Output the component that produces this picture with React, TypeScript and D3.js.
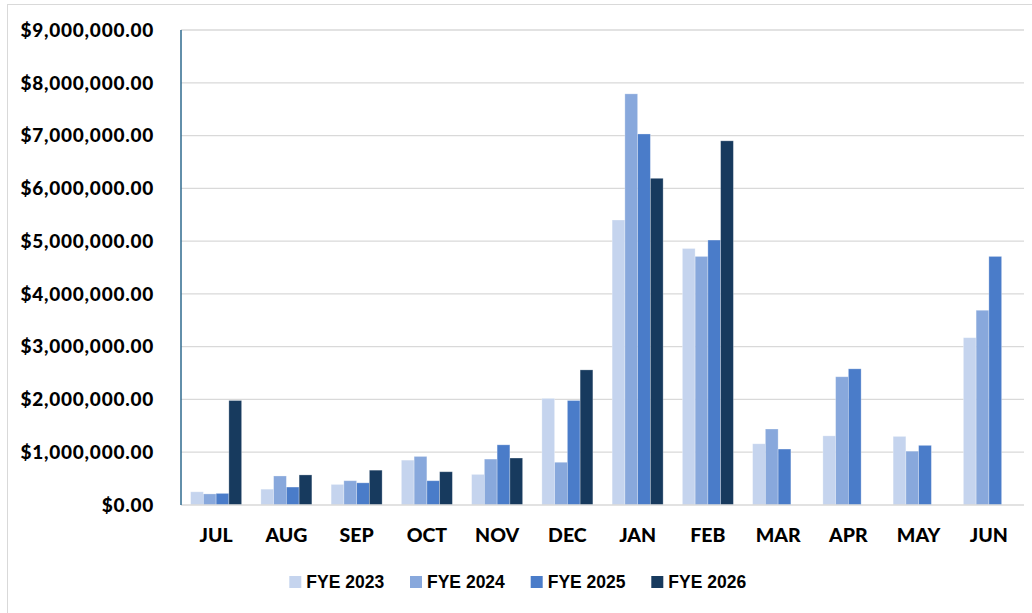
import React from "react";
import * as d3 from "d3";

const months = ["JUL", "AUG", "SEP", "OCT", "NOV", "DEC", "JAN", "FEB", "MAR", "APR", "MAY", "JUN"];
const seriesNames = ["FYE 2023", "FYE 2024", "FYE 2025", "FYE 2026"];
const fye2023 = [250000, 300000, 390000, 850000, 580000, 2020000, 5400000, 4860000, 1160000, 1310000, 1300000, 3170000];
const fye2024 = [210000, 550000, 460000, 920000, 870000, 810000, 7790000, 4710000, 1440000, 2430000, 1020000, 3690000];
const fye2025 = [220000, 340000, 420000, 460000, 1140000, 1980000, 7030000, 5020000, 1060000, 2580000, 1130000, 4710000];
const fye2026: (number | null)[] = [1980000, 570000, 660000, 630000, 890000, 2560000, 6190000, 6900000, null, null, null, null];
const yTicks = [0, 1000000, 2000000, 3000000, 4000000, 5000000, 6000000, 7000000, 8000000, 9000000];
const colors = ["#C5D4EE", "#88A8DC", "#4A7CC9", "#173A5E"];

const W = 1032;
const H = 613;

export default function App() {
  const series = [fye2023, fye2024, fye2025, fye2026];
  const x = d3.scaleBand<string>().domain(months).range([181, 1024]).paddingInner(0.274).paddingOuter(0.137);
  const xs = d3.scaleBand<string>().domain(seriesNames).range([0, x.bandwidth()]).padding(0);
  const y = d3.scaleLinear().domain([0, 9000000]).range([505, 30]);
  const fmt = (v: number) => "$" + d3.format(",.2f")(v);
  const labelFont = "Lato, 'Open Sans', sans-serif";
  const legendFont = "'Liberation Sans', Arial, sans-serif";
  const legendX = [289.3, 410, 530.7, 651.3];

  return (
    <div style={{ position: "absolute", left: 0, top: 0 }}>
      <svg width={W} height={H} style={{ display: "block", background: "#fff" }}>
        <rect x={7.5} y={4.5} width={W + 10} height={H + 10} fill="#fff" stroke="#d9d9d9" strokeWidth={1} />
        {yTicks.map((t) => (
          <g key={t}>
            {t > 0 && (
              <line x1={181} x2={1024} y1={y(t)} y2={y(t)} stroke="#d9d9d9" strokeWidth={1.3} />
            )}
            <text
              x={154}
              y={y(t) + 6.8}
              textAnchor="end"
              fontFamily={labelFont}
              fontWeight={900}
              fontSize={19}
              letterSpacing={0.75}
              fill="#000"
            >
              {fmt(t)}
            </text>
          </g>
        ))}
        {months.map((m, i) => (
          <g key={m} transform={`translate(${x(m)},0)`}>
            {series.map((s, j) => {
              const v = s[i];
              if (v == null) return null;
              return (
                <rect
                  key={j}
                  x={xs(seriesNames[j])}
                  y={y(v)}
                  width={xs.bandwidth()}
                  height={y(0) - y(v)}
                  fill={colors[j]}
                  stroke="#ffffff"
                  strokeOpacity={0.35}
                  strokeWidth={0.8}
                />
              );
            })}
          </g>
        ))}
        <line x1={181} x2={1024} y1={y(0)} y2={y(0)} stroke="#d9d9d9" strokeWidth={1.3} />
        <line x1={181} x2={181} y1={30} y2={y(0)} stroke="#2E6A8E" strokeWidth={1.5} />
        {months.map((m) => (
          <text
            key={m}
            x={(x(m) as number) + x.bandwidth() / 2}
            y={541.5}
            textAnchor="middle"
            fontFamily={labelFont}
            fontWeight={900}
            fontSize={19.5}
            fill="#000"
          >
            {m}
          </text>
        ))}
        {seriesNames.map((n, j) => (
          <g key={n}>
            <rect x={legendX[j]} y={576} width={12} height={12} fill={colors[j]} />
            <text
              x={legendX[j] + 17}
              y={588.3}
              fontFamily={legendFont}
              fontWeight={700}
              fontSize={17.5}
              fill="#000"
            >
              {n}
            </text>
          </g>
        ))}
      </svg>
    </div>
  );
}
